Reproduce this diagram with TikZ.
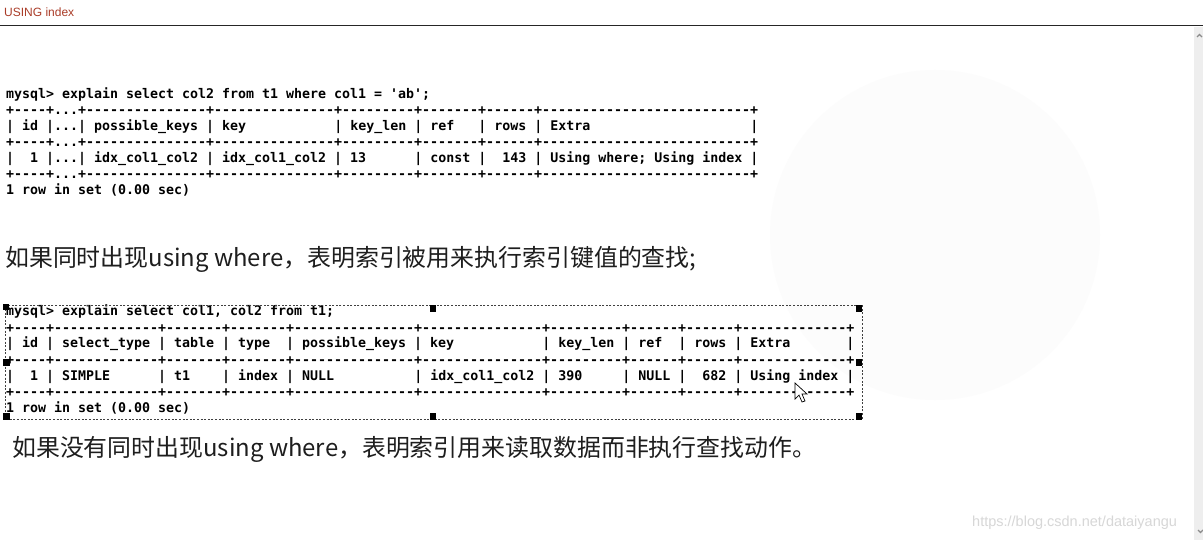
\documentclass[tikz,border=0pt]{standalone}
\usepackage{fontspec}
\setmainfont{Liberation Sans}
\setmonofont{DejaVu Sans Mono}
\newfontfamily\cjk{Noto Sans CJK SC}
\definecolor{titlered}{RGB}{170,60,40}
\definecolor{cjkgray}{RGB}{30,30,30}
\definecolor{wmgray}{RGB}{215,215,215}
\definecolor{sbgray}{RGB}{238,238,238}
\tikzset{
  mono/.style={anchor=base west, inner sep=0pt, font=\ttfamily\bfseries\fontsize{13.29}{16}\selectfont, text=black},
  cjktext/.style={anchor=base west, inner sep=0pt, font=\cjk\fontsize{23.9}{28}\selectfont, text=cjkgray},
  handle/.style={fill=black, minimum size=6.2pt, inner sep=0pt, draw=none},
  selbox/.style={draw=black!75, line width=0.8pt, dash pattern=on 2pt off 1.6pt}
}
\begin{document}
\begin{tikzpicture}[x=1pt,y=-1pt]
\useasboundingbox (0,0) rectangle (1203,540);
\fill[white] (0,0) rectangle (1203,540);
% faint background blob
\fill[black!1.3] (935,235) circle (165);
% header
\node[anchor=base west, inner sep=0pt, font=\fontsize{12}{14}\selectfont, text=titlered] (title) at (4,17) {USING index};
\coordinate (hl) at (0,25.5);
\coordinate (hr) at (1203,25.5);
\draw[line width=1.2pt, black!85] (hl) -- (hr);
% scrollbar
\fill[sbgray] (1194,27) rectangle (1203,540);
\draw[black!45, line width=1.2pt] (1197,37) -- (1199.5,34.5) -- (1202,37);
\draw[black!45, line width=1.2pt] (1198,530) -- (1200.5,532.5) -- (1203,530);

% table 1
\node[mono] (a1) at (6,99)  {mysql> explain select col2 from t1 where col1 = 'ab';};
\node[mono] (a2) at (6,115) {+----+...+---------------+---------------+---------+-------+------+--------------------------+};
\node[mono] (a3) at (6,131) {|~id~|...|~possible\_keys~|~key~~~~~~~~~~~|~key\_len~|~ref~~~|~rows~|~Extra~~~~~~~~~~~~~~~~~~~~|};
\node[mono] (a4) at (6,147) {+----+...+---------------+---------------+---------+-------+------+--------------------------+};
\node[mono] (a5) at (6,163) {|~~1~|...|~idx\_col1\_col2~|~idx\_col1\_col2~|~13~~~~~~|~const~|~~143~|~Using~where;~Using~index~|};
\node[mono] (a6) at (6,179) {+----+...+---------------+---------------+---------+-------+------+--------------------------+};
\node[mono] (a7) at (6,195) {1 row in set (0.00 sec)};

\node[cjktext] (c1) at (5,267) {如果同时出现using where，表明索引被用来执行索引键值的查找;};

% table 2
\node[mono] (b1) at (6,316) {mysql> explain select col1, col2 from t1;};
\node[mono] (b2) at (6,332) {+----+-------------+-------+-------+---------------+---------------+---------+------+------+-------------+};
\node[mono] (b3) at (6,348) {|~id~|~select\_type~|~table~|~type~~|~possible\_keys~|~key~~~~~~~~~~~|~key\_len~|~ref~~|~rows~|~Extra~~~~~~~|};
\node[mono] (b4) at (6,364) {+----+-------------+-------+-------+---------------+---------------+---------+------+------+-------------+};
\node[mono] (b5) at (6,380) {|~~1~|~SIMPLE~~~~~~|~t1~~~~|~index~|~NULL~~~~~~~~~~|~idx\_col1\_col2~|~390~~~~~|~NULL~|~~682~|~Using~index~|};
\node[mono] (b6) at (6,396) {+----+-------------+-------+-------+---------------+---------------+---------+------+------+-------------+};
\node[mono] (b7) at (6,412) {1 row in set (0.00 sec)};

% selection box with handles
\coordinate (sa) at (5,305.5);
\coordinate (sb) at (862,419.5);
\draw[selbox] (sa) rectangle (sb);
\node[handle] (h1) at (6,307) {};
\node[handle] (h2) at (433,308.5) {};
\node[handle] (h3) at (859,308.5) {};
\node[handle] (h4) at (859,362.5) {};
\node[handle] (h5) at (859,416.5) {};
\node[handle] (h6) at (433,416.5) {};
\node[handle] (h7) at (6.5,416.5) {};
\node[handle] (h8) at (6.5,362.5) {};

% mouse cursor
\draw[fill=white, draw=black, line width=0.7pt, line join=miter]
  (795,383) -- (795,399) -- (799,395) -- (802,402) -- (805,401) -- (802,394) -- (807,394) -- cycle;

\node[cjktext] (c2) at (12,456) {如果没有同时出现using where，表明索引用来读取数据而非执行查找动作。};

% watermark
\node[anchor=base west, inner sep=0pt, font=\fontsize{14.5}{16}\selectfont, text=wmgray] (wm) at (972,526) {https://blog.csdn.net/dataiyangu};
\end{tikzpicture}
\end{document}
